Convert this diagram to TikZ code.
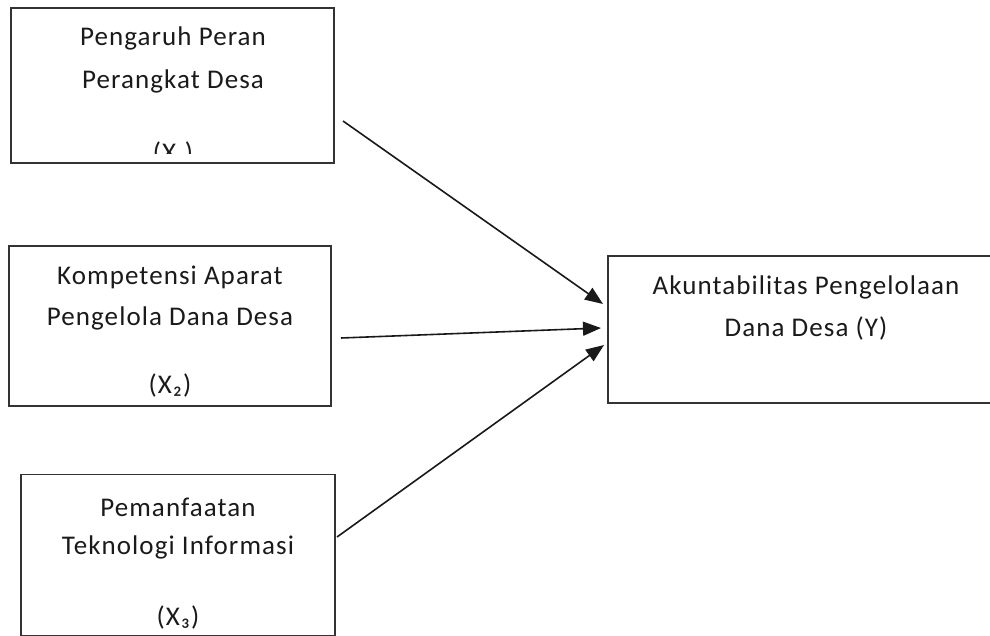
\documentclass[tikz,border=0pt]{standalone}
\usepackage{fontspec}
\setmainfont{Carlito}[LetterSpace=4]
\usetikzlibrary{arrows.meta}
\definecolor{boxline}{HTML}{333333}
\definecolor{txt}{HTML}{1A1A1A}
\tikzset{
  box/.style={draw=boxline, line width=1.4pt, rectangle, inner sep=0pt},
  lbl/.style={text=txt, font=\fontsize{27}{31}\selectfont, inner sep=0pt, anchor=center},
  conn/.style={draw=black!90, line width=1.6pt, -{Triangle[length=18pt,width=14pt]}}
}
\begin{document}
\begin{tikzpicture}[x=1pt,y=-1pt]
\useasboundingbox (0,0) rectangle (990,635);
\clip (0,0) rectangle (990,635);
% boxes
\node[box, minimum width=323pt, minimum height=155pt] (b1) at (172.5,85.5) {};
\node[box, minimum width=322pt, minimum height=160pt] (b2) at (170,326) {};
\node[box, minimum width=314pt, minimum height=161pt] (b3) at (178,555) {};
\node[box, minimum width=402pt, minimum height=147pt] (by) at (809,329.5) {};
% texts
\node[lbl] (t11) at (173,38) {Pengaruh Peran};
\node[lbl] (t12) at (173,81) {Perangkat Desa};
\begin{scope}
\clip (0,0) rectangle (990,153);
\node[lbl] (t13) at (173,153) {(X₁)};
\end{scope}
\node[lbl] (t21) at (170,277) {Kompetensi Aparat};
\node[lbl] (t22) at (170,318) {Pengelola Dana Desa};
\node[lbl] (t23) at (170,385) {(X₂)};
\node[lbl] (t31) at (178,507) {Pemanfaatan};
\node[lbl] (t32) at (178,547) {Teknologi Informasi};
\node[lbl] (t33) at (178,617) {(X₃)};
\node[lbl] (ty1) at (806,287) {Akuntabilitas Pengelolaan};
\node[lbl] (ty2) at (806,328) {Dana Desa (Y)};
% connector ends
\coordinate (s1) at (343,121);
\coordinate (e1) at (603,304);
\coordinate (s2) at (341,338);
\coordinate (e2) at (601,328);
\coordinate (s3) at (337,537);
\coordinate (e3) at (604,345);
\draw[conn] (s1) -- (e1);
\draw[conn] (s2) -- (e2);
\draw[conn] (s3) -- (e3);
\end{tikzpicture}
\end{document}
